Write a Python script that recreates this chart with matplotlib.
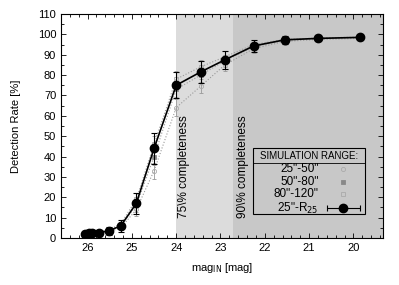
import numpy as np
import matplotlib.pyplot as plt
from matplotlib.patches import Rectangle

plt.rcParams["font.family"] = ["Liberation Sans", "DejaVu Sans"]

# main series: 25"-R25
mag = [26.05, 25.97, 25.9, 25.75, 25.52, 25.25, 24.9, 24.5, 24.0, 23.45, 22.9, 22.25, 21.55, 20.8, 19.85]
rate = [2.0, 2.3, 2.6, 2.6, 3.5, 6.0, 17.0, 44.0, 75.0, 81.5, 87.5, 94.3, 97.3, 98.0, 98.5]
err = [1.5, 1.5, 1.5, 1.5, 2.0, 3.0, 5.0, 7.5, 6.5, 5.5, 4.5, 3.0, 2.0, 1.5, 1.3]

# sub-ranges
mag_sub = [26.05, 25.9, 25.75, 25.52, 25.25, 24.9, 24.5, 24.0, 23.45, 22.9, 22.25, 21.55, 20.8, 19.85]
rate_25_50 = [1.5, 2.0, 2.0, 3.0, 5.0, 14.0, 33.0, 64.0, 74.5, 85.0, 93.0, 96.5, 97.5, 98.0]
rate_50_80 = [2.0, 2.5, 2.5, 3.5, 6.0, 16.0, 40.0, 73.0, 80.0, 87.0, 94.0, 97.0, 98.0, 98.5]
rate_80_120 = [2.5, 3.0, 3.0, 4.0, 7.0, 19.0, 46.0, 78.0, 84.0, 89.0, 95.0, 97.5, 98.2, 98.7]
err_sub = [1.0, 1.0, 1.0, 1.5, 2.0, 3.0, 4.0, 4.0, 3.5, 3.0, 2.0, 1.5, 1.0, 1.0]

labels = ['25"-50"', '50"-80"', '80"-120"', r'25"-R$_{25}$']

fig = plt.figure(figsize=(3.99, 2.85), dpi=100)
ax = fig.add_axes([0.153, 0.165, 0.807, 0.786])

ax.axvspan(24.0, 22.72, color="#dcdcdc", zorder=0, lw=0)
ax.axvspan(22.72, 19.0, color="#c8c8c8", zorder=0, lw=0)

sub_styles = [("o", "none", "#aaaaaa"), ("s", "#888888", "#888888"), ("s", "none", "#aaaaaa")]
for vals, (mk, mfc, mec) in zip([rate_25_50, rate_50_80, rate_80_120], sub_styles):
    ax.errorbar(mag_sub, vals, yerr=err_sub, color="#999999", ls=":", lw=0.8,
                marker=mk, ms=3, mfc=mfc, mec=mec, mew=0.6,
                capsize=1.5, elinewidth=0.6, zorder=2)

ax.errorbar(mag, rate, yerr=err, color="black", lw=1.2, marker="o", ms=6,
            capsize=2, elinewidth=0.8, capthick=0.8, zorder=3)

ax.text(23.815, 9.8, r"75\% completeness", rotation=90, fontsize=8.5, va="bottom", ha="center")
ax.text(22.49, 9.8, r"90\% completeness", rotation=90, fontsize=8.5, va="bottom", ha="center")

ax.set_xlim(26.55, 19.33)
ax.set_ylim(0, 110)
ax.set_xticks([26, 25, 24, 23, 22, 21, 20])
ax.set_yticks(np.arange(0, 111, 10))
ax.set_xticks(np.arange(19.4, 26.6, 0.2), minor=True)
ax.set_yticks(np.arange(5, 110, 10), minor=True)
ax.tick_params(which="both", direction="in", top=True, right=True, labelsize=8)
ax.tick_params(which="major", length=3.5, width=0.6)
ax.tick_params(which="minor", length=2, width=0.6)
for s in ax.spines.values():
    s.set_linewidth(0.8)

ax.set_xlabel(r"mag$_{\rm IN}$ [mag]", fontsize=8, labelpad=6)
ax.set_ylabel("Detection Rate [%]", fontsize=8, labelpad=12)

# legend box drawn by hand
tr = ax.transAxes
ax.add_patch(Rectangle((0.595, 0.107), 0.349, 0.293, transform=tr, fc="#c8c8c8",
                       ec="black", lw=0.8, zorder=5))
ax.plot([0.595, 0.944], [0.336, 0.336], transform=tr, color="black", lw=0.6, zorder=6)
ax.text(0.770, 0.368, "SIMULATION RANGE:", transform=tr, fontsize=7, ha="center",
        va="center", zorder=6)
rows = [0.307, 0.249, 0.195, 0.133]
for lab, y in zip(labels, rows):
    ax.text(0.801, y, lab, transform=tr, fontsize=8.5, ha="right", va="center", zorder=6)
for (mk, mfc, mec), y in zip(sub_styles, rows[:3]):
    ax.plot([0.877], [y], transform=tr, ls="none", marker=mk, ms=3, mfc=mfc, mec=mec,
            mew=0.6, zorder=6)
ax.errorbar([0.877], [rows[3]], xerr=[0.051], transform=tr, color="black", marker="o",
            ms=6, capsize=2, elinewidth=0.8, capthick=0.8, zorder=6)

fig.savefig("out.png", dpi=100)
